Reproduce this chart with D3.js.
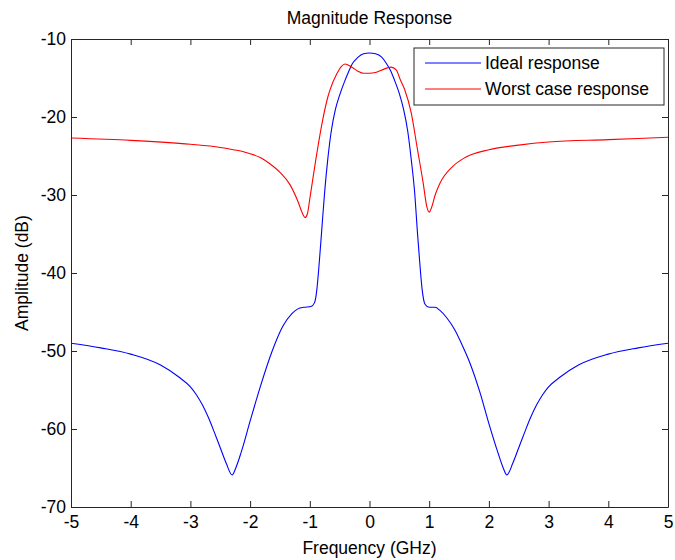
<!DOCTYPE html>
<html>
<head>
<meta charset="utf-8">
<script src="https://cdn.jsdelivr.net/npm/d3@7"></script>
<style>
  html, body { margin: 0; padding: 0; background: #fff; }
  svg text { font-family: "Liberation Sans", Arial, sans-serif; fill: #000; }
</style>
</head>
<body>
<svg id="chart" width="675" height="560"></svg>
<script>
// Frequency ticks and amplitude ticks
const xTicks = [-5, -4, -3, -2, -1, 0, 1, 2, 3, 4, 5];
const yTicks = [-70, -60, -50, -40, -30, -20, -10];

// Ideal response (GHz, dB)
const idealFreq = [-5, -4.5, -4, -3.5, -3.2, -3, -2.9, -2.8, -2.7, -2.6, -2.5, -2.4, -2.3, -2.24, -2.15, -2.0, -1.83, -1.63, -1.45, -1.3, -1.2, -1.1, -0.98, -0.92, -0.88, -0.84, -0.8, -0.75, -0.7, -0.64, -0.57, -0.5, -0.42, -0.35, -0.29, -0.2, -0.1, 0, 0.1, 0.2, 0.28, 0.35, 0.42, 0.5, 0.57, 0.64, 0.7, 0.76, 0.8, 0.84, 0.88, 0.93, 1.0, 1.1, 1.18, 1.3, 1.43, 1.55, 1.68, 1.85, 2.0, 2.15, 2.24, 2.3, 2.4, 2.5, 2.6, 2.7, 2.8, 2.9, 3, 3.2, 3.5, 4, 4.5, 5];
const idealDb = [-49.0, -49.6, -50.4, -51.8, -53.3, -54.6, -55.6, -56.9, -58.5, -60.4, -62.4, -64.4, -65.9, -65.0, -63.0, -59.0, -54.6, -50.0, -46.8, -45.2, -44.6, -44.4, -44.3, -43.8, -42.0, -38.5, -34.5, -29.5, -25.5, -21.8, -19.0, -17.2, -15.5, -14.2, -13.2, -12.4, -11.9, -11.8, -11.9, -12.3, -13.1, -14.0, -15.3, -17.0, -19.0, -21.8, -25.5, -30.0, -34.5, -38.5, -42.0, -44.0, -44.4, -44.4, -44.8, -45.8, -47.3, -49.2, -51.5, -55.3, -59.3, -63.0, -65.0, -65.9, -64.4, -62.4, -60.4, -58.5, -56.9, -55.6, -54.6, -53.3, -51.8, -50.4, -49.6, -49.0];

// Worst case response (GHz, dB)
const worstFreq = [-5, -4, -3, -2.5, -2.2, -2, -1.83, -1.67, -1.5, -1.33, -1.2, -1.12, -1.08, -1.04, -1.0, -0.9, -0.8, -0.7, -0.66, -0.55, -0.47, -0.41, -0.3, -0.2, -0.1, 0, 0.1, 0.2, 0.3, 0.36, 0.45, 0.52, 0.59, 0.7, 0.8, 0.9, 0.96, 1.0, 1.04, 1.1, 1.18, 1.4, 1.6, 2, 2.5, 3, 4, 5];
const worstDb = [-22.7, -23.0, -23.5, -23.9, -24.3, -24.7, -25.2, -26.0, -27.1, -28.7, -30.8, -32.4, -32.9, -32.4, -30.5, -25.5, -21.0, -17.5, -16.5, -14.5, -13.5, -13.2, -13.6, -14.1, -14.4, -14.4, -14.3, -14.0, -13.7, -13.6, -14.0, -15.3, -16.5, -19.5, -24.0, -28.5, -31.5, -32.2, -31.6, -30.0, -28.5, -26.3, -25.2, -24.2, -23.6, -23.2, -22.9, -22.6];

const series = [
  { name: "Ideal response", color: "#0000ff", freq: idealFreq, db: idealDb },
  { name: "Worst case response", color: "#ff0000", freq: worstFreq, db: worstDb }
];

const svg = d3.select("#chart");
const m = { left: 71, right: 668, top: 39, bottom: 507 };
const axisColor = "#262626";
const fontSize = 17.5;
const fmt = d => String(d);

const x = d3.scaleLinear().domain([-5, 5]).range([m.left, m.right]);
const y = d3.scaleLinear().domain([-70, -10]).range([m.bottom, m.top]);

// Plot area
const plot = svg.append("g");
plot.append("rect")
  .attr("x", m.left).attr("y", m.top)
  .attr("width", m.right - m.left).attr("height", m.bottom - m.top)
  .attr("fill", "#fff");

// Lines
const line = d3.line()
  .x(d => x(d[0]))
  .y(d => y(d[1]))
  .curve(d3.curveMonotoneX);

series.forEach(s => {
  plot.append("path")
    .datum(s.freq.map((f, i) => [f, s.db[i]]))
    .attr("fill", "none")
    .attr("stroke", s.color)
    .attr("stroke-width", 1.1)
    .attr("d", line);
});

// Axes with inward ticks on all four sides
const tickLen = 6;
function styleAxis(g) {
  g.select(".domain").attr("stroke", axisColor).attr("stroke-width", 1);
  g.selectAll(".tick line").attr("stroke", axisColor);
  g.selectAll("text")
    .style("font-family", '"Liberation Sans", Arial, sans-serif')
    .style("font-size", fontSize + "px")
    .attr("fill", "#000");
}

svg.append("g")
  .attr("transform", `translate(0,${m.bottom})`)
  .call(d3.axisBottom(x).tickValues(xTicks).tickSize(-tickLen).tickSizeOuter(0).tickPadding(9).tickFormat(fmt))
  .call(styleAxis);

svg.append("g")
  .attr("transform", `translate(0,${m.top})`)
  .call(d3.axisTop(x).tickValues(xTicks).tickSize(-tickLen).tickSizeOuter(0).tickFormat(""))
  .call(styleAxis);

svg.append("g")
  .attr("transform", `translate(${m.left},0)`)
  .call(d3.axisLeft(y).tickValues(yTicks).tickSize(-tickLen).tickSizeOuter(0).tickPadding(5).tickFormat(fmt))
  .call(styleAxis);

svg.append("g")
  .attr("transform", `translate(${m.right},0)`)
  .call(d3.axisRight(y).tickValues(yTicks).tickSize(-tickLen).tickSizeOuter(0).tickFormat(""))
  .call(styleAxis);

// Title and axis labels
svg.append("text")
  .attr("x", (m.left + m.right) / 2).attr("y", 24)
  .attr("text-anchor", "middle")
  .style("font-size", fontSize + "px")
  .text("Magnitude Response");

svg.append("text")
  .attr("x", (m.left + m.right) / 2).attr("y", 554)
  .attr("text-anchor", "middle")
  .style("font-size", fontSize + "px")
  .text("Frequency (GHz)");

svg.append("text")
  .attr("transform", `translate(28,${(m.top + m.bottom) / 2}) rotate(-90)`)
  .attr("text-anchor", "middle")
  .style("font-size", fontSize + "px")
  .text("Amplitude (dB)");

// Legend
const lg = svg.append("g");
const lgBox = { x: 414, y: 48, w: 250, h: 57 };
lg.append("rect")
  .attr("x", lgBox.x).attr("y", lgBox.y)
  .attr("width", lgBox.w).attr("height", lgBox.h)
  .attr("fill", "#fff").attr("stroke", axisColor).attr("stroke-width", 1);

series.forEach((s, i) => {
  const ly = 63 + i * 26;
  lg.append("line")
    .attr("x1", 425).attr("x2", 481)
    .attr("y1", ly).attr("y2", ly)
    .attr("stroke", s.color).attr("stroke-width", 1.1);
  lg.append("text")
    .attr("x", 485).attr("y", ly)
    .attr("dy", "0.35em")
    .style("font-size", fontSize + "px")
    .text(s.name);
});
</script>
</body>
</html>
